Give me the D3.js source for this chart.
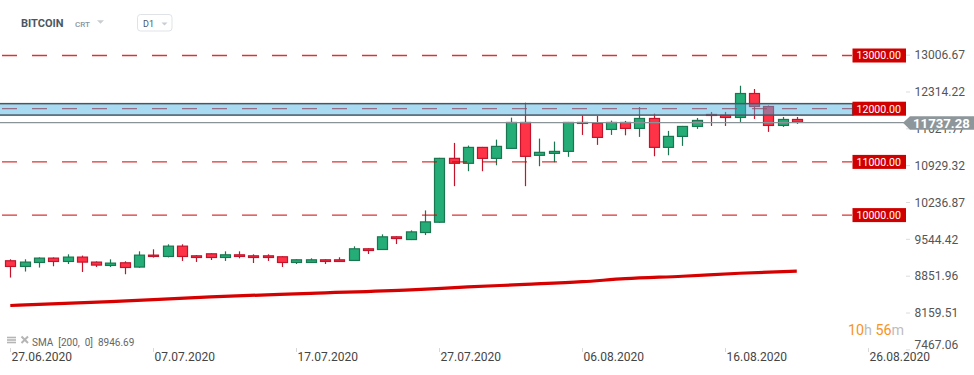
<!DOCTYPE html>
<html><head><meta charset="utf-8">
<script src="https://cdn.jsdelivr.net/npm/d3@7"></script>
<style>
html,body{margin:0;padding:0;background:#fff;}
svg{display:block;font-family:Roboto,"Noto Sans",sans-serif;}
</style></head>
<body><svg id="c" width="974" height="375"></svg>
<script>
// ---- data ----
const startDate = "2020-06-27";
const opens  = [9151,9025,9100,9201,9119,9220,9126,9044,9113,9014,9257,9213,9426,9244,9282,9194,9263,9244,9244,9226,9100,9100,9169,9169,9138,9376,9344,9601,9531,9663,9857,11076,10964,11282,11057,11245,11751,11114,11151,11189,11751,11733,11601,11751,11620,11826,11264,11470,11657,11901,11883,11826,12295,12051,11676,11807];
const highs  = [9169,9169,9205,9205,9263,9239,9130,9169,9132,9319,9357,9451,9451,9250,9282,9319,9319,9263,9263,9226,9169,9188,9169,9207,9413,9376,9638,9601,9713,10088,11076,11357,11307,11282,11419,11832,12113,11438,11382,11751,11875,11864,11776,11770,12032,11907,11583,11676,11826,11939,11939,12432,12370,12060,11845,11845];
const lows   = [8826,8939,9014,9038,9081,8931,9025,9025,8888,9010,9201,9205,9138,9119,9156,9138,9188,9100,9138,9025,9081,9100,9081,9119,9138,9269,9344,9456,9531,9625,9857,10544,10825,10825,10937,11245,10544,10919,10994,11095,11507,11320,11507,11500,11470,11106,11125,11301,11620,11676,11676,11751,11807,11564,11657,11714];
const closes = [9025,9126,9201,9119,9220,9107,9051,9107,9006,9257,9213,9426,9213,9194,9194,9263,9213,9194,9194,9100,9169,9169,9119,9119,9376,9325,9601,9550,9694,9882,11076,10964,11282,11057,11301,11751,11095,11189,11207,11751,11714,11451,11751,11620,11826,11264,11489,11676,11789,11864,11826,12295,12032,11676,11807,11737.28];
const smaDayIndex = [0,7,14,21,28,32,36,40,43,47,51,55];
const smaValues   = [8301,8372,8463,8530,8594,8650,8697,8748,8805,8851,8907,8947];
const levels = [13000,12000,11000,10000];
const levelLabels = ["13000.00","12000.00","11000.00","10000.00"];
const zone = [11880,12095];
const yTicks = [13006.67,12314.22,11621.77,10929.32,10236.87,9544.42,8851.96,8159.51,7467.06];
const dateTicks = ["2020-06-27","2020-07-07","2020-07-17","2020-07-27","2020-08-06","2020-08-16","2020-08-26"];
const lastPrice = 11737.28;
const smaLabel = "SMA  [200,  0]  8946.69";
const instrument = "BITCOIN", account = "CRT", timeframe = "D1";

// ---- build ----
const parse = d3.utcParse("%Y-%m-%d");
const fmt = d3.utcFormat("%d.%m.%Y");
const d0 = parse(startDate);
const candles = opens.map((o,i)=>({date:d3.utcDay.offset(d0,i),o,h:highs[i],l:lows[i],c:closes[i]}));

const svg = d3.select("#c");
const x = d3.scaleUtc().domain([d0, parse("2020-08-26")]).range([10.3, 10.3+60*14.3]);
const y = d3.scaleLinear().domain([7467.06,13006.67]).range([349.85,55.15]);
const bw = 10;

const GREEN="#24ad76", GREEN_S="#1a7650", RED="#ff3348", RED_S="#c3142b";

// SMA line
const sma = smaDayIndex.map((k,i)=>({date:d3.utcDay.offset(d0,k),v:smaValues[i]}));
svg.append("path").datum(sma)
  .attr("fill","none").attr("stroke","#d60000").attr("stroke-width",3.2)
  .attr("d",d3.line().x(d=>x(d.date)).y(d=>y(d.v)).curve(d3.curveMonotoneX));

// candles
const g = svg.append("g");
const cg = g.selectAll("g").data(candles).join("g");
cg.append("line")
  .attr("x1",d=>Math.round(x(d.date))+0.5).attr("x2",d=>Math.round(x(d.date))+0.5)
  .attr("y1",d=>y(d.h)).attr("y2",d=>y(d.l))
  .attr("stroke",d=>d.c>=d.o?GREEN_S:RED_S).attr("stroke-width",1.2);
cg.append("rect")
  .attr("x",d=>Math.round(x(d.date))-4.5).attr("width",bw)
  .attr("y",d=>y(Math.max(d.o,d.c))+0.5)
  .attr("height",d=>Math.max(1,Math.abs(y(d.o)-y(d.c))-1))
  .attr("fill",d=>d.c>=d.o?GREEN:RED)
  .attr("stroke",d=>d.c>=d.o?GREEN_S:RED_S).attr("stroke-width",1.2);

// dashed level lines
svg.append("g").selectAll("line").data(levels).join("line")
  .attr("x1",2).attr("x2",852).attr("y1",d=>y(d)).attr("y2",d=>y(d))
  .attr("stroke","#d00000").attr("stroke-opacity",0.8).attr("stroke-width",1.3)
  .attr("stroke-dasharray","15,15");

// zone band
const bandR = 852.7;
svg.append("rect").attr("x",-2).attr("width",bandR+2)
  .attr("y",y(zone[1])).attr("height",y(zone[0])-y(zone[1]))
  .attr("fill","rgb(74,178,228)").attr("fill-opacity",0.48)
  .attr("stroke","#4a5661").attr("stroke-width",1.5);

// last price line
svg.append("line").attr("x1",0).attr("x2",904).attr("y1",y(lastPrice)).attr("y2",y(lastPrice))
  .attr("stroke","#8a9397").attr("stroke-width",1.2);

// y axis ticks + labels
const ya = svg.append("g");
ya.selectAll("line").data(yTicks).join("line")
  .attr("x1",906).attr("x2",910).attr("y1",d=>y(d)).attr("y2",d=>y(d))
  .attr("stroke","#dcdcdc");
ya.selectAll("text").data(yTicks).join("text")
  .attr("x",914.5).attr("y",d=>Math.min(y(d),344.5)).attr("dy","0.36em")
  .attr("font-size",12).attr("fill","#555")
  .text(d=>d.toFixed(2));

// level labels
const ll = svg.append("g").selectAll("g").data(levels).join("g");
ll.append("rect").attr("x",852.5).attr("width",53.5).attr("y",d=>y(d)-7).attr("height",14)
  .attr("fill","#d00000");
ll.append("text").attr("x",856.5).attr("y",d=>y(d)).attr("dy","0.36em")
  .attr("font-size",10.6).attr("fill","#fff").text((d,i)=>levelLabels[i]);

// last price label (covers the tick label underneath, as in the reference)
const ly = y(lastPrice);
svg.append("path")
  .attr("d",`M903,${ly} L910,${ly-6.5} L974,${ly-6.5} L974,${ly+7} L910,${ly+7} Z`)
  .attr("fill","#8d969a");
svg.append("text").attr("x",913).attr("y",ly).attr("dy","0.37em")
  .attr("font-size",13.2).attr("font-weight","bold").attr("fill","#fff")
  .text(lastPrice.toFixed(2));

// x axis
const xa = svg.append("g");
xa.selectAll("line").data(dateTicks).join("line")
  .attr("x1",d=>Math.round(x(parse(d)))+0.5).attr("x2",d=>Math.round(x(parse(d)))+0.5)
  .attr("y1",348).attr("y2",352).attr("stroke","#d8d8d8");
xa.selectAll("text").data(dateTicks).join("text")
  .attr("x",d=>x(parse(d))+1.3).attr("y",361.3)
  .attr("font-size",12).attr("fill","#444")
  .text(d=>fmt(parse(d)));

// SMA legend
const lg = svg.append("g");
[337.5,340,342.5].forEach(yy=>lg.append("rect").attr("x",7).attr("y",yy-0.8).attr("width",9).attr("height",1.6).attr("fill","#b5b5b5"));
lg.append("path").attr("d","M21.5,336.5 L28,343 M28,336.5 L21.5,343").attr("stroke","#b5b5b5").attr("stroke-width",2);
lg.append("text").attr("x",32).attr("y",346).attr("font-size",10).attr("fill","#666")
  .style("white-space","pre").text(smaLabel);

// countdown
const cd = svg.append("text").attr("x",848).attr("y",334.5).attr("font-size",14.3);
cd.append("tspan").attr("fill","#f7931e").text("10");
cd.append("tspan").attr("fill","#bdbdbd").text("h ");
cd.append("tspan").attr("fill","#f7931e").text("56");
cd.append("tspan").attr("fill","#bdbdbd").text("m");

// header
svg.append("text").attr("x",21).attr("y",26.7).attr("font-size",11).attr("font-weight","bold")
  .attr("fill","#4b5661").text(instrument);
svg.append("text").attr("x",75).attr("y",26.7).attr("font-size",8).attr("font-weight",500)
  .attr("fill","#8695a3").text(account);
svg.append("path").attr("d","M97,20.3 L104,20.3 L100.5,23.8 Z").attr("fill","#c8cdd2");
svg.append("rect").attr("x",137.5).attr("y",14.5).attr("width",34.5).attr("height",16.5).attr("rx",3)
  .attr("fill","#fff").attr("stroke","#dfe3e7");
svg.append("text").attr("x",143).attr("y",26.7).attr("font-size",9).attr("fill","#4b5661").text(timeframe);
svg.append("path").attr("d","M161.5,22.5 L167.5,22.5 L164.5,25.5 Z").attr("fill","#c8cdd2");
</script></body></html>
